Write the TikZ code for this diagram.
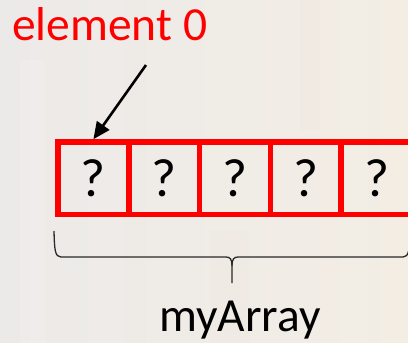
\documentclass[tikz,border=0pt]{standalone}
\usepackage{fontspec}
\setmainfont{Carlito}
\usetikzlibrary{arrows.meta}
\definecolor{paper}{RGB}{243,237,228}
\definecolor{paperL}{RGB}{236,234,233}
\definecolor{brace}{RGB}{40,40,40}
\tikzset{
  cell/.style={draw=red, line width=5.5pt, minimum width=70.8pt, minimum height=72.5pt,
               inner sep=0pt, font=\fontsize{54}{58}\selectfont},
  label/.style={inner sep=0pt, font=\fontsize{47.5}{52}\selectfont},
  pointer/.style={line width=2.6pt, -{Triangle[length=17pt,width=15pt]}},
}
\begin{document}
\begin{tikzpicture}[x=1pt,y=-1pt]
  % faded backdrop
  \shade[left color=paperL, right color=paper] (0,0) rectangle (408,343);
  \fill[white, opacity=0.12] (20,60) rectangle (45,343);
  \fill[brown!30, opacity=0.06] (300,0) rectangle (320,130);
  \fill[brown!30, opacity=0.05] (210,230) rectangle (250,343);
  \useasboundingbox (0,0) rectangle (408,343);

  % the array cells
  \foreach \i/\x in {1/93.4, 2/164.2, 3/235, 4/305.8, 5/376.6}
    \node[cell] (c\i) at (\x,178.25) {?};

  % label of the first element and its pointer
  \node[label, text=red, anchor=base west] (elt) at (12,40.7) {element 0};
  \coordinate (src) at (146,65);
  \draw[pointer] (src) -- (c1.north);

  % brace under the array
  \coordinate (bl) at (54,231);
  \coordinate (br) at (410,231);
  \coordinate (tip) at (232,283);
  \draw[brace, line width=1.3pt]
    (bl) .. controls (54.5,250) and (55,257) .. (61,257) -- (226,257)
         .. controls (230,257) and (232,259) .. (232,266) -- (tip);
  \draw[brace, line width=1.3pt]
    (br) .. controls (409.5,250) and (409,257) .. (403,257) -- (238,257)
         .. controls (234,257) and (232,259) .. (232,266);
  \node[label, anchor=base] (name) at (240,331) {myArray};
\end{tikzpicture}
\end{document}
